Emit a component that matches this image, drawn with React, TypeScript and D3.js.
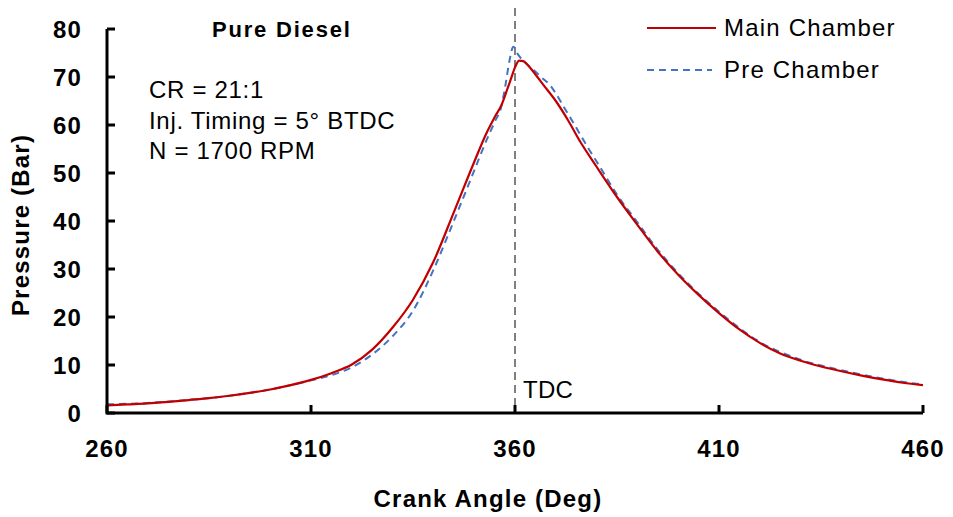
import React from "react";
import * as d3 from "d3";

const mainAngles = [260,265,270,275,280,285,290,295,300,305,310,315,320,325,330,335,340,345,350,353,355,356.7,358,359,360,361,362,363,364.5,367,370,373,376,380,385,390,395,400,405,410,415,420,425,430,435,440,445,450,455,460];
const mainPressure = [1.6,1.8,2.0,2.3,2.7,3.1,3.6,4.2,4.9,5.8,6.9,8.3,10.1,13.2,17.8,23.6,31.5,41.8,52.3,58.3,61.6,64.2,67.2,69.6,72.0,73.4,73.3,72.6,71.1,68.3,65.0,61.0,56.5,51.3,45.0,39.2,33.6,28.8,24.6,20.8,17.4,14.6,12.4,10.9,9.7,8.7,7.8,7.0,6.3,5.8];

const preAngles = [260,270,280,290,300,310,315,320,325,330,335,340,345,350,353,355,356.7,357.6,358.6,359.6,360.8,362.5,364.5,366.5,368.6,370.2,372,374,376,378,380,385,390,395,400,410,420,430,440,450,460];
const prePressure = [1.8,2.1,2.7,3.6,4.9,6.8,7.9,9.5,12.2,16.0,21.3,29.8,40.0,50.5,56.8,60.6,64.0,68.0,73.2,76.3,74.6,73.0,71.5,69.9,68.3,66.3,63.7,60.9,58.0,55.1,52.4,45.5,39.7,34.0,29.1,21.1,14.8,11.1,8.9,7.2,5.9];

const xTicks = [260, 310, 360, 410, 460];
const yTicks = [0, 10, 20, 30, 40, 50, 60, 70, 80];
const seriesNames = ["Main Chamber", "Pre Chamber"];
const notes = ["CR = 21:1", "Inj. Timing = 5° BTDC", "N = 1700 RPM"];
const tdcAngle = 360;

const W = 953, H = 517;
const FONT = "'Liberation Sans', Arial, sans-serif";

export default function App() {
  const x = d3.scaleLinear().domain([260, 460]).range([107, 923]);
  const y = d3.scaleLinear().domain([0, 80]).range([413, 29]);
  const line = d3.line<[number, number]>()
    .x(d => x(d[0]))
    .y(d => y(d[1]))
    .curve(d3.curveMonotoneX);
  const mainPath = line(mainAngles.map((a, i) => [a, mainPressure[i]]))!;
  const prePath = line(preAngles.map((a, i) => [a, prePressure[i]]))!;
  const fs = 24;
  const ls = 1.2;
  return (
    <svg width={W} height={H} style={{ position: "absolute", left: 0, top: 0, background: "#fff" }} fontFamily={FONT}>
      {/* TDC line */}
      <line x1={x(tdcAngle)} x2={x(tdcAngle)} y1={8} y2={y(0)} stroke="#808080" strokeWidth={2} strokeDasharray="8,5" />
      <text x={x(tdcAngle) + 8} y={398} fontSize={fs} letterSpacing={0.3} fill="#000">TDC</text>

      {/* series */}
      <path d={prePath} fill="none" stroke="#4472C4" strokeWidth={2} strokeDasharray="7,5" />
      <path d={mainPath} fill="none" stroke="#C00000" strokeWidth={2.2} />

      {/* axes */}
      <line x1={x(260)} x2={x(460)} y1={y(0)} y2={y(0)} stroke="#000" strokeWidth={3} />
      <line x1={x(260)} x2={x(260)} y1={y(0) + 1.5} y2={y(80)} stroke="#000" strokeWidth={3} />
      {yTicks.map(t => (
        <g key={"y" + t}>
          <line x1={x(260)} x2={x(260) + 8} y1={y(t)} y2={y(t)} stroke="#000" strokeWidth={3} />
          <text x={82} y={y(t) + 8.5} fontSize={fs} fontWeight="bold" textAnchor="end" letterSpacing={ls}>{t}</text>
        </g>
      ))}
      {xTicks.map(t => (
        <g key={"x" + t}>
          <line x1={x(t)} x2={x(t)} y1={y(0)} y2={y(0) - 8} stroke="#000" strokeWidth={3} />
          <text x={x(t)} y={457} fontSize={fs} fontWeight="bold" textAnchor="middle" letterSpacing={ls}>{t}</text>
        </g>
      ))}

      {/* axis titles */}
      <text x={488} y={507} fontSize={fs} fontWeight="bold" textAnchor="middle" letterSpacing={ls}>Crank Angle (Deg)</text>
      <text transform={`translate(29,${225}) rotate(-90)`} fontSize={fs} fontWeight="bold" textAnchor="middle" letterSpacing={ls}>Pressure  (Bar)</text>

      {/* annotations */}
      <text x={212} y={37} fontSize={22} fontWeight="bold" letterSpacing={1.8}>Pure Diesel</text>
      {notes.map((n, i) => (
        <text key={n} x={149} y={98 + i * 30.5} fontSize={fs} letterSpacing={0.7}>{n}</text>
      ))}

      {/* legend */}
      <line x1={647} x2={716} y1={28} y2={28} stroke="#C00000" strokeWidth={2.2} />
      <text x={724} y={36} fontSize={fs} letterSpacing={1.2}>{seriesNames[0]}</text>
      <line x1={647} x2={712} y1={70} y2={70} stroke="#4472C4" strokeWidth={2} strokeDasharray="7,5" />
      <text x={724} y={78} fontSize={fs} letterSpacing={1.2}>{seriesNames[1]}</text>
    </svg>
  );
}
